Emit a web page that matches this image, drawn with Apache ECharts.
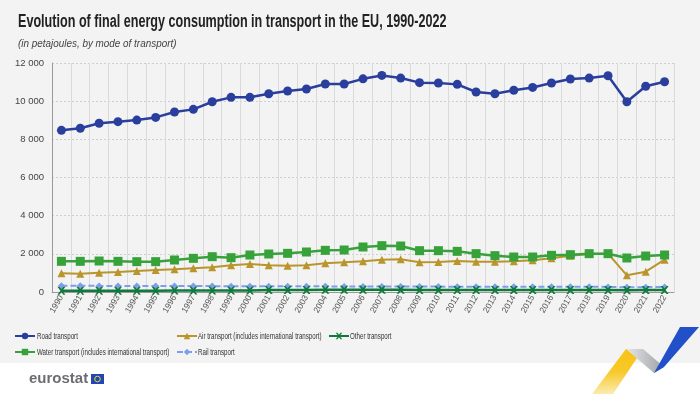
<!DOCTYPE html>
<html><head><meta charset="utf-8">
<script src="https://cdn.jsdelivr.net/npm/echarts@6/dist/echarts.min.js"></script>
<style>html,body{margin:0;padding:0;background:#fff}#c{width:700px;height:394px}</style>
</head><body><div id="c"></div>
<script>
const years = ['1990','1991','1992','1993','1994','1995','1996','1997','1998','1999','2000','2001','2002','2003','2004','2005','2006','2007','2008','2009','2010','2011','2012','2013','2014','2015','2016','2017','2018','2019','2020','2021','2022'];
const road  = [8470,8580,8840,8925,9010,9150,9430,9570,9970,10200,10200,10390,10530,10640,10900,10900,11170,11350,11210,10970,10950,10880,10480,10390,10570,10720,10950,11160,11210,11330,9970,10780,11020];
const water = [1607,1607,1624,1607,1590,1590,1677,1764,1851,1799,1939,1991,2026,2096,2183,2201,2358,2428,2410,2166,2166,2131,2009,1904,1834,1834,1921,1956,2009,2009,1782,1886,1939];
const air   = [978,960,1013,1048,1100,1153,1188,1240,1292,1397,1467,1397,1380,1397,1502,1554,1615,1694,1712,1554,1572,1624,1590,1590,1607,1659,1764,1904,1991,2009,873,1065,1694];
const rail  = [330,325,320,318,315,312,312,310,308,305,305,300,298,295,295,292,290,290,288,282,282,280,278,275,275,272,272,272,270,268,245,255,260];
const other = [70,70,72,72,72,72,75,75,78,80,85,100,105,110,115,118,120,120,118,110,110,108,110,108,105,105,108,110,110,108,95,100,100];
const seriesNames = ['Road transport','Water transport (includes international transport)','Air transport (includes international transport)','Rail transport','Other transport'];
const titleText = 'Evolution of final energy consumption in transport in the EU, 1990-2022';
const subtitleText = '(in petajoules, by mode of transport)';

const C_ROAD='#2A3F9D', C_WATER='#38A23A', C_AIR='#B9952B', C_OTHER='#0F7A3C', C_RAIL='#7E9DEB';
const xPath='path://M0,0 L3,0 L6,3.5 L9,0 L12,0 L7.5,6 L12,12 L9,12 L6,8.5 L3,12 L0,12 L4.5,6Z';
const NF="'Liberation Sans Narrow','Liberation Sans',sans-serif";

const chart = echarts.init(document.getElementById('c'), null, {renderer:'canvas'});
function fmt(v){return String(v).replace(/\B(?=(\d{3})+(?!\d))/g,' ');}
function lg(name,left,top){return {data:[name],left:left,top:top,itemWidth:20,itemHeight:8,itemGap:0,padding:0,formatter:function(){return '';},textStyle:{fontSize:1}};}
function lgText(name,x,y){return {type:'text',x:x,y:y,scaleX:0.65,scaleY:1,originX:0,originY:0,silent:true,
  style:{text:name,font:"9.5px "+NF,fill:'#333',verticalAlign:'middle',align:'left'}};}
chart.setOption({
  backgroundColor:'#ffffff',
  animation:false,
  graphic:[
    {type:'rect',z:-10,shape:{x:0,y:0,width:700,height:363},style:{fill:'#F3F3F3'},silent:true},
    {type:'text',x:18,y:22.5,scaleX:0.72,originX:0,originY:0,silent:true,style:{text:titleText,font:"bold 17.5px "+NF,fill:'#222',verticalAlign:'middle'}},
    {type:'text',x:18,y:44,scaleX:0.9,originX:0,originY:0,silent:true,style:{text:subtitleText,font:"italic 11px "+NF,fill:'#444',verticalAlign:'middle'}},
    lgText(seriesNames[0],37,336),
    lgText(seriesNames[1],37,352),
    lgText(seriesNames[2],198,336),
    lgText(seriesNames[3],198,352),
    lgText(seriesNames[4],350,336),
    {type:'text',x:29,y:379,style:{text:'eurostat',font:"bold 15px 'Liberation Sans','Arial',sans-serif",fill:'#6B6D70',verticalAlign:'middle'}},
    {type:'rect',shape:{x:91,y:374,width:13,height:10},style:{fill:'#1F48B5'}},
    {type:'circle',shape:{cx:97.5,cy:379,r:2.8},style:{fill:'none',stroke:'#F3D23A',lineWidth:1}},
    {type:'polygon',shape:{points:[[592,394],[613,394],[643,349],[626,349]]},style:{fill:new echarts.graphic.LinearGradient(0,1,0,0,[{offset:0,color:'#FCEBB0'},{offset:0.5,color:'#F8C92A'},{offset:1,color:'#F6C313'}])}},
    {type:'polygon',shape:{points:[[626,349],[643,349],[664,367],[654,373]]},style:{fill:new echarts.graphic.LinearGradient(0,0,1,0,[{offset:0,color:'#E6E6E6'},{offset:1,color:'#9EA2A8'}])}},
    {type:'polygon',shape:{points:[[654,373],[664,367],[699,327],[680,327]]},style:{fill:'#2150C8'}}
  ],
  legend:[lg(seriesNames[0],14,332),lg(seriesNames[1],14,348),lg(seriesNames[2],176,332),lg(seriesNames[3],176,348),lg(seriesNames[4],328,332)],
  grid:{left:52,right:26,top:63,bottom:102,containLabel:false},
  xAxis:{type:'category',data:years,boundaryGap:true,
    axisLine:{lineStyle:{color:'#999'}},axisTick:{show:false},
    axisLabel:{rotate:60,fontFamily:NF,fontSize:8.5,color:'#555',margin:4,interval:0},
    splitLine:{show:true,interval:0,lineStyle:{color:'#DADADA',width:1}}},
  yAxis:{type:'value',min:0,max:12000,interval:2000,
    axisLine:{show:true,lineStyle:{color:'#999'}},axisTick:{show:false},
    axisLabel:{formatter:fmt,fontFamily:NF,fontSize:9.5,color:'#444',margin:8},
    splitLine:{lineStyle:{color:'#CFCFCF',type:[2,2]}}},
  series:[
    {name:seriesNames[0],type:'line',data:road,color:C_ROAD,symbol:'circle',symbolSize:9,lineStyle:{width:2.5},z:5},
    {name:seriesNames[1],type:'line',data:water,color:C_WATER,symbol:'rect',symbolSize:9,lineStyle:{width:2.5},z:4},
    {name:seriesNames[2],type:'line',data:air,color:C_AIR,symbol:'triangle',symbolSize:8,lineStyle:{width:2},z:3},
    {name:seriesNames[3],type:'line',data:rail,color:C_RAIL,symbol:'diamond',symbolSize:7,lineStyle:{width:2,type:[6,3]},z:2},
    {name:seriesNames[4],type:'line',data:other,color:C_OTHER,symbol:xPath,symbolSize:8,lineStyle:{width:2.5},z:6}
  ]
});
</script></body></html>
